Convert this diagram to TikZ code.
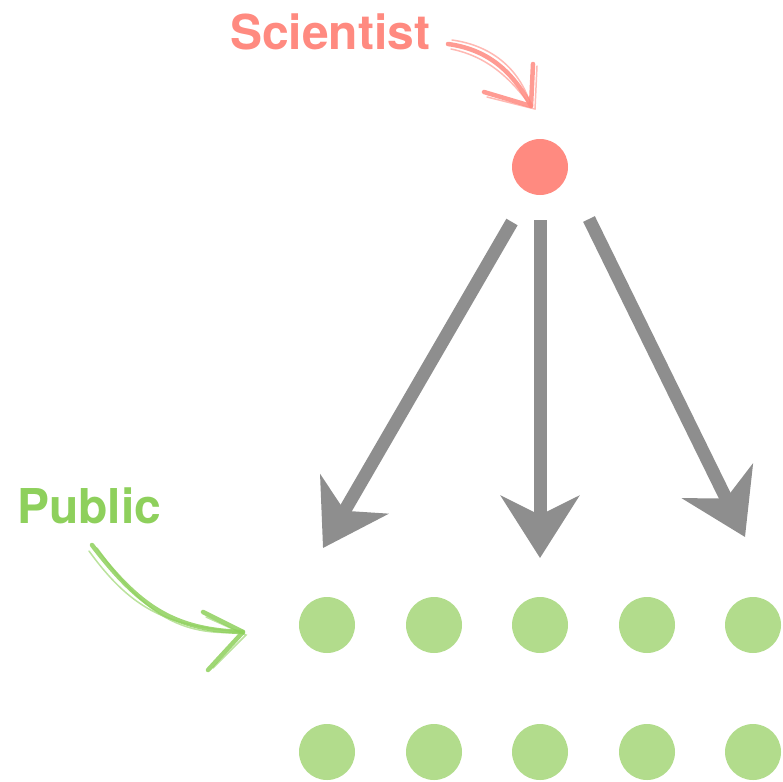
\documentclass[tikz,border=0pt]{standalone}
\usepackage{fontspec}
\setmainfont{TeX Gyre Heros}
\usetikzlibrary{arrows.meta}
\definecolor{sci}{RGB}{255,138,128}
\definecolor{pubtxt}{RGB}{142,208,92}
\definecolor{pubdot}{RGB}{178,220,140}
\definecolor{arr}{RGB}{142,142,142}
\tikzset{
  dotnode/.style={circle,inner sep=0pt,minimum size=56pt},
  scidot/.style={dotnode,fill=sci},
  pubdotst/.style={dotnode,fill=pubdot},
  lbl/.style={inner sep=0pt,anchor=base west,font=\fontsize{48}{48}\selectfont\bfseries},
  bigarrow/.style={draw=arr,line width=13pt,
    -{Stealth[length=62pt,width=78pt,inset=19pt,fill=arr]}},
  brush/.style={line width=4.5pt,line cap=round,line join=round,opacity=0.85},
  brushthin/.style={line width=1.5pt,line cap=round,opacity=0.6}
}
\begin{document}
\begin{tikzpicture}[x=1pt,y=-1pt]
\useasboundingbox (0,0) rectangle (783,781);
% labels
\node[lbl,text=sci] (scilbl) at (230,50) {Scientist};
\node[lbl,text=pubtxt] (publbl) at (17,523) {Public};
% scientist dot
\node[scidot] (s) at (540,167) {};
% public dots
\foreach \i/\x in {1/327,2/434,3/540,4/647,5/753}{
  \node[pubdotst] (p\i) at (\x,625) {};
  \node[pubdotst] (q\i) at (\x,752) {};
}
% big gray arrows
\coordinate (sL) at (512,222);
\coordinate (sM) at (540,220);
\coordinate (sR) at (589,219);
\coordinate (tL) at (323,548);
\coordinate (tM) at (540,558);
\coordinate (tR) at (745,537);
\draw[bigarrow] (sL) -- (tL);
\draw[bigarrow] (sM) -- (tM);
\draw[bigarrow] (sR) -- (tR);
% scientist brush arrow
\coordinate (sa0) at (448,44);
\coordinate (sa1) at (531,106);
\coordinate (sah1) at (533,64);
\coordinate (sah2) at (484,92);
\draw[brush,sci] (sa0) .. controls (492,50) and (515,76) .. (sa1);
\draw[brushthin,sci] (451,49) .. controls (490,57) and (512,81) .. (sa1);
\draw[brushthin,sci] (452,40) .. controls (495,46) and (521,72) .. (sa1);
\draw[brush,sci] (sah1) -- (sa1) -- (sah2);
\draw[brushthin,sci] (537,66) -- (535,109) -- (487,97);
% public brush arrow
\coordinate (pa0) at (92,545);
\coordinate (pa1) at (243,632);
\coordinate (pah1) at (203,612);
\coordinate (pah2) at (208,670);
\draw[brush,pubtxt] (pa0) .. controls (138,605) and (172,630) .. (pa1);
\draw[brushthin,pubtxt] (97,548) .. controls (143,612) and (178,637) .. (pa1);
\draw[brushthin,pubtxt] (89,551) .. controls (134,613) and (170,626) .. (pa1);
\draw[brush,pubtxt] (pah1) -- (pa1) -- (pah2);
\draw[brushthin,pubtxt] (206,617) -- (246,635) -- (213,668);
\end{tikzpicture}
\end{document}
